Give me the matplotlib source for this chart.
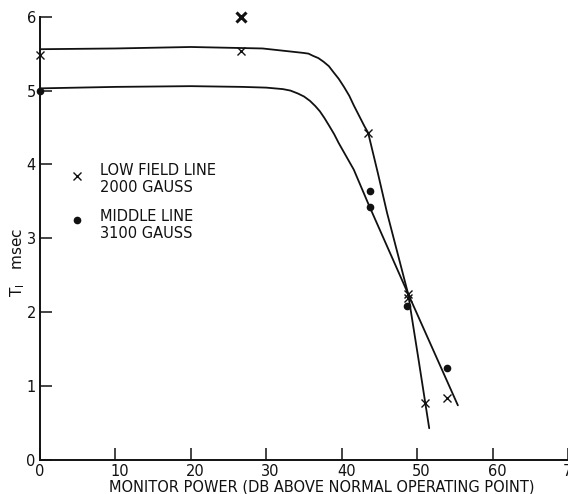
import matplotlib
matplotlib.use("Agg")
import matplotlib.pyplot as plt
import matplotlib.transforms as mtrans

# ---- data ----
low_x = [0, 26.6, 43.5, 48.8, 48.8, 51.0, 54.0]
low_y = [5.48, 5.53, 4.43, 2.25, 2.19, 0.77, 0.84]
low_bold_x = [26.6]
low_bold_y = [5.99]

mid_x = [0, 43.8, 43.7, 48.7, 54.0]
mid_y = [5.00, 3.64, 3.43, 2.09, 1.24]

# hand-drawn fit curves
low_curve_x = [0, 10, 20, 29.5, 32.2, 34.9, 35.6, 36.2, 36.9, 37.6, 38.3, 38.9, 39.6, 40.3,
               41.0, 41.6, 42.3, 43.0, 43.5, 44.8, 46.0, 47.4, 48.8, 50.2, 51.6]
low_curve_y = [5.56, 5.57, 5.59, 5.57, 5.54, 5.51, 5.50, 5.47, 5.44, 5.39, 5.33, 5.25, 5.16, 5.05,
               4.93, 4.80, 4.66, 4.52, 4.43, 3.88, 3.35, 2.80, 2.25, 1.35, 0.43]
mid_curve_x = [0, 10, 20, 26.8, 30, 32.2, 33.2, 34.2, 35.0, 35.8, 36.5, 37.1, 37.7, 38.3,
               39.0, 39.6, 40.6, 41.6, 43.6, 48.8, 55.4]
mid_curve_y = [5.03, 5.05, 5.06, 5.05, 5.04, 5.02, 5.00, 4.96, 4.92, 4.86, 4.79, 4.72, 4.63, 4.53,
               4.41, 4.29, 4.11, 3.93, 3.45, 2.25, 0.74]

x_ticks = [0, 10, 20, 30, 40, 50, 60, 70]
y_ticks = [0, 1, 2, 3, 4, 5, 6]
legend_labels = ["LOW FIELD LINE\n2000 GAUSS", "MIDDLE LINE\n3100 GAUSS"]
x_label = "MONITOR POWER (DB ABOVE NORMAL OPERATING POINT)"
y_label = "T$_\\mathregular{I}$   msec"

fig = plt.figure(figsize=(5.68, 4.94), dpi=100)
ax = fig.add_axes([40/568, 1-460/494, 1-40/568, (460-16.7)/494])
ax.set_xlim(0, 70)
ax.set_ylim(0, 6)

ink = "#111111"
ax.plot(low_curve_x, low_curve_y, color=ink, lw=1.3, solid_capstyle="round",
        solid_joinstyle="round", clip_on=False)
ax.plot(mid_curve_x, mid_curve_y, color=ink, lw=1.3, solid_capstyle="round",
        solid_joinstyle="round", clip_on=False)

ax.plot(low_x, low_y, ls="none", marker="x", ms=5.5, mew=1.0, color=ink, clip_on=False)
ax.plot(low_bold_x, low_bold_y, ls="none", marker="x", ms=6.5, mew=2.2, color=ink, clip_on=False)
ax.plot(mid_x, mid_y, ls="none", marker="o", ms=4.5, color=ink, clip_on=False)

# legend-like annotations
ax.plot([4.9], [3.85], ls="none", marker="x", ms=5.5, mew=1.0, color=ink)
ax.plot([4.9], [3.25], ls="none", marker="o", ms=4.5, color=ink)
ax.text(8.0, 3.80, legend_labels[0], fontsize=10.5, va="center", ha="left",
        color=ink, linespacing=1.15)
ax.text(8.0, 3.18, legend_labels[1], fontsize=10.5, va="center", ha="left",
        color=ink, linespacing=1.15)

for s in ["top", "right"]:
    ax.spines[s].set_visible(False)
for s in ["left", "bottom"]:
    ax.spines[s].set_linewidth(1.4)
    ax.spines[s].set_color(ink)

ax.set_xticks(x_ticks)
ax.set_yticks(y_ticks)
ax.set_xticklabels([str(v) for v in x_ticks])
ax.set_yticklabels([str(v) for v in y_ticks])
ax.tick_params(direction="in", length=8.5, width=1.1, colors=ink, labelsize=10.5)
ax.tick_params(axis="x", pad=3)
ax.tick_params(axis="y", pad=3)
offset = mtrans.ScaledTranslation(-3.5/72, 0, fig.dpi_scale_trans)
for lab in ax.get_xticklabels():
    lab.set_horizontalalignment("left")
    lab.set_transform(lab.get_transform() + offset)

ax.set_xlabel(x_label, fontsize=10.5, color=ink)
ax.xaxis.label.set_verticalalignment("center")
ax.xaxis.set_label_coords((318-40)/521, (460-487)/443.3)
fig.text(18/568, 1-262/494, y_label, rotation=90, fontsize=11, color=ink,
         ha="center", va="center")

fig.savefig("out.png", dpi=100)
